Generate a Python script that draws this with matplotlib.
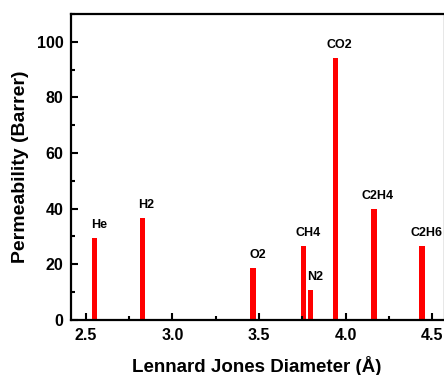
import matplotlib
matplotlib.use("Agg")
import matplotlib.pyplot as plt
from matplotlib.ticker import MultipleLocator

gases = ["He", "H2", "O2", "CH4", "N2", "CO2", "C2H4", "C2H6"]
diameters = [2.551, 2.827, 3.467, 3.758, 3.798, 3.941, 4.163, 4.443]
permeability = [29.5, 36.6, 18.7, 26.5, 10.8, 94.3, 39.9, 26.5]

plt.rcParams["font.family"] = ["Liberation Sans", "DejaVu Sans"]
plt.rcParams["font.weight"] = "bold"

fig = plt.figure(figsize=(4.44, 3.75), dpi=100)
ax = fig.add_axes([0.159, 0.147, 0.840, 0.816])

ax.bar(diameters, permeability, width=0.032, color="#ff0000")
for g, x, y in zip(gases, diameters, permeability):
    ax.annotate(g, (x, y), xytext=(3, 5), textcoords="offset points",
                ha="center", va="bottom", fontsize=9, fontweight="bold")

ax.set_xlim(2.413, 4.566)
ax.set_ylim(0, 110)
ax.xaxis.set_major_locator(MultipleLocator(0.5))
ax.xaxis.set_minor_locator(MultipleLocator(0.25))
ax.yaxis.set_major_locator(MultipleLocator(20))
ax.yaxis.set_minor_locator(MultipleLocator(10))
ax.xaxis.set_major_formatter(matplotlib.ticker.FormatStrFormatter("%.1f"))
ax.tick_params(which="both", direction="in", top=False, right=False, width=1.5)
ax.tick_params(which="major", length=5, labelsize=11.5)
ax.tick_params(axis="x", which="major", pad=6)
ax.tick_params(axis="y", which="major", pad=5)
ax.tick_params(which="minor", length=3)
for lbl in ax.get_xticklabels() + ax.get_yticklabels():
    lbl.set_fontweight("bold")

for s in ["left", "bottom", "top"]:
    ax.spines[s].set_linewidth(1.6)
ax.spines["right"].set_linewidth(1.0)
ax.spines["right"].set_color("#888888")

ax.set_xlabel("Lennard Jones Diameter (Å)", fontsize=13.5, fontweight="bold", labelpad=9)
ax.set_ylabel("Permeability (Barrer)", fontsize=14, fontweight="bold", labelpad=6)

fig.savefig("out.png", dpi=100)
